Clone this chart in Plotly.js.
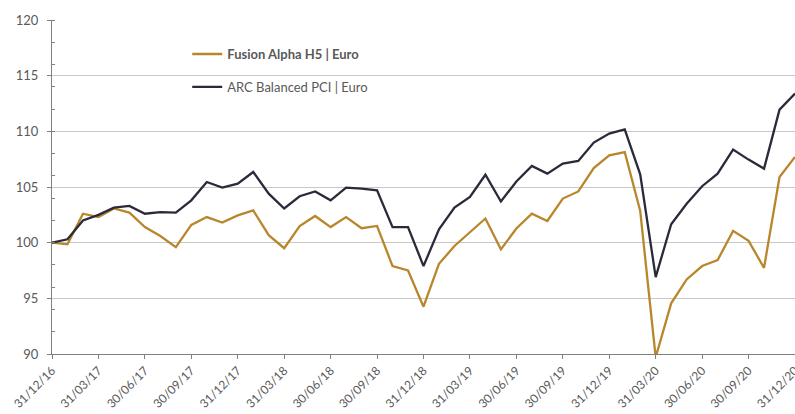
<!DOCTYPE html>
<html>
<head>
<meta charset="utf-8">
<script src="https://cdn.plot.ly/plotly-3.0.1.min.js"></script>
<style>html,body{margin:0;padding:0;background:#fff;}#chart{width:795px;height:414px;}</style>
</head>
<body>
<div id="chart"></div>
<script>
const dates = [
  "31/12/16",
  "31/01/17","28/02/17","31/03/17","30/04/17","31/05/17","30/06/17","31/07/17","31/08/17","30/09/17","31/10/17","30/11/17","31/12/17",
  "31/01/18","28/02/18","31/03/18","30/04/18","31/05/18","30/06/18","31/07/18","31/08/18","30/09/18","31/10/18","30/11/18","31/12/18",
  "31/01/19","28/02/19","31/03/19","30/04/19","31/05/19","30/06/19","31/07/19","31/08/19","30/09/19","31/10/19","30/11/19","31/12/19",
  "31/01/20","29/02/20","31/03/20","30/04/20","31/05/20","30/06/20","31/07/20","31/08/20","30/09/20","31/10/20","30/11/20","31/12/20"
];
const fusionName = "Fusion Alpha H5 | Euro";
const arcName = "ARC Balanced PCI | Euro";
const fusion = [
  100.0,
  99.85, 102.6, 102.3, 103.07, 102.7, 101.4, 100.6, 99.6, 101.6, 102.3, 101.8, 102.45,
  102.9, 100.67, 99.5, 101.5, 102.4, 101.4, 102.3, 101.3, 101.5, 97.9, 97.5, 94.25,
  98.1, 99.7, 100.9, 102.17, 99.4, 101.27, 102.6, 101.95, 103.96, 104.6, 106.7, 107.85,
  108.14, 102.85, 89.7, 94.55, 96.7, 97.9, 98.43, 101.06, 100.16, 97.74, 105.9, 107.7
];
const arc = [
  100.0,
  100.3, 102.0, 102.5, 103.15, 103.3, 102.6, 102.75, 102.7, 103.8, 105.45, 104.95, 105.3,
  106.35, 104.4, 103.07, 104.17, 104.6, 103.8, 104.95, 104.86, 104.7, 101.4, 101.4, 97.9,
  101.2, 103.15, 104.1, 106.1, 103.7, 105.5, 106.9, 106.2, 107.1, 107.34, 108.99, 109.8,
  110.18, 106.14, 96.9, 101.66, 103.5, 105.07, 106.2, 108.36, 107.46, 106.65, 111.95, 113.4
];
const quarterTicks = dates.filter((d, i) => i % 3 === 0);
const yTicks = [90, 95, 100, 105, 110, 115, 120];

const gold = "#B8872C";
const navy = "#2A2A3A";
const txt = "#595959";

const traces = [
  {x: dates, y: fusion, name: "<b>" + fusionName + "</b>", type: "scatter", mode: "lines",
   line: {color: gold, width: 2.3}, legendgroup: "a"},
  {x: dates, y: arc, name: arcName, type: "scatter", mode: "lines",
   line: {color: navy, width: 2.3}, legendgroup: "b"}
];

const layout = {
  width: 795, height: 414,
  margin: {l: 52, r: 0, t: 20, b: 60},
  paper_bgcolor: "#fff", plot_bgcolor: "#fff",
  font: {family: "Lato, 'Open Sans', sans-serif", color: txt, size: 13},
  showlegend: true,
  legend: {x: 0.182, y: 0.943, xanchor: "left", yanchor: "top", bgcolor: "rgba(0,0,0,0)",
           font: {size: 13, color: txt}, tracegroupgap: 13, itemwidth: 30},
  xaxis: {type: "category", range: [0, 48], tickmode: "array", tickvals: quarterTicks, ticktext: quarterTicks,
          tickangle: -45, ticks: "outside", ticklen: 4, tickcolor: "#808080",
          showline: true, linecolor: "#808080", linewidth: 1, showgrid: false, zeroline: false,
          tickfont: {size: 12, color: txt}, fixedrange: true},
  yaxis: {range: [90, 120], tickmode: "array", tickvals: yTicks, ticks: "outside", ticklen: 4, tickcolor: "#808080",
          showline: true, linecolor: "#808080", linewidth: 1, showgrid: true, gridcolor: "#C8C8C8", gridwidth: 1,
          zeroline: false, tickfont: {size: 13, color: txt}, ticklabelstandoff: 6,
          minor: {dtick: 2, tick0: 90, ticks: "inside", ticklen: 3, tickcolor: "#808080", showgrid: false},
          fixedrange: true},
  shapes: [
    {type: "rect", layer: "between", xref: "paper", yref: "y", x0: 0.103, x1: 0.448, y0: 113, y1: 117,
     fillcolor: "#fff", line: {width: 0}}
  ]
};

Plotly.newPlot("chart", traces, layout, {displayModeBar: false, staticPlot: true});
</script>
</body>
</html>
